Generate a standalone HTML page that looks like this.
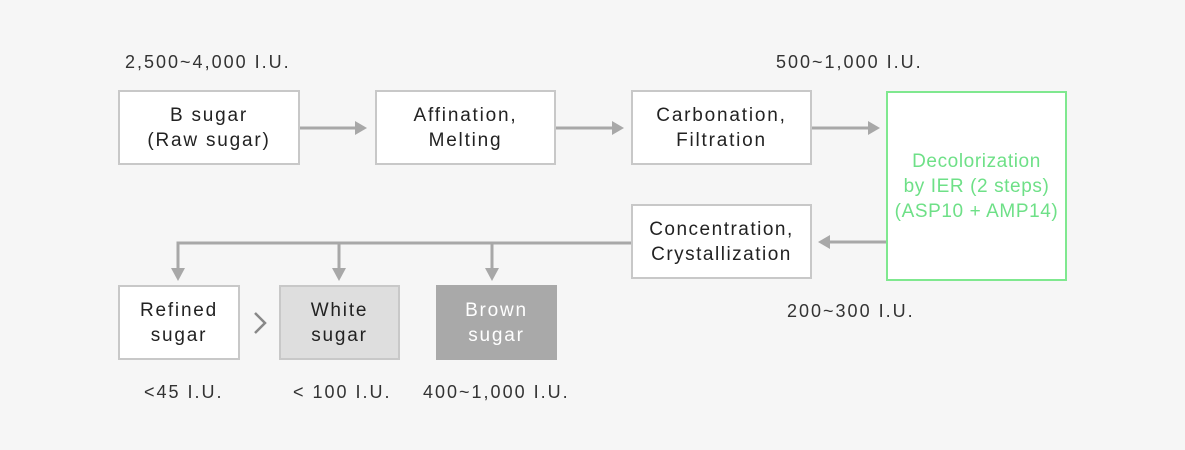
<!DOCTYPE html>
<html><head><style>
body{margin:0;width:1185px;height:450px;background:#f6f6f6;font-family:"Liberation Sans",sans-serif;position:relative;overflow:hidden}
.b{position:absolute;box-sizing:border-box;border:2px solid #c8c8c8;background:#fff;display:flex;align-items:center;justify-content:center;text-align:center;font-size:19px;letter-spacing:1.8px;line-height:25px;color:#222;white-space:nowrap}
.t{position:absolute;font-size:18px;letter-spacing:2px;color:#333;white-space:nowrap}
svg{position:absolute;left:0;top:0}
</style></head><body>
<svg width="1185" height="450">
<g stroke="#a8a8a8" stroke-width="3" fill="none">
<line x1="299" y1="128" x2="355" y2="128"/>
<line x1="555" y1="128" x2="612" y2="128"/>
<line x1="811" y1="128" x2="868" y2="128"/>
<line x1="886" y1="242" x2="830" y2="242"/>
<polyline points="631,243 178,243 178,270"/>
<line x1="339" y1="243" x2="339" y2="270"/>
<line x1="492" y1="243" x2="492" y2="270"/>
<polyline points="255,313 265,323 255,333" stroke="#888" stroke-width="2.5"/>
</g>
<g fill="#a8a8a8">
<polygon points="355,121 367,128 355,135"/>
<polygon points="612,121 624,128 612,135"/>
<polygon points="868,121 880,128 868,135"/>
<polygon points="830,235 818,242 830,249"/>
<polygon points="171,268 185,268 178,281"/>
<polygon points="332,268 346,268 339,281"/>
<polygon points="485,268 499,268 492,281"/>
</g>
</svg>
<div class="t" style="left:125px;top:52px">2,500~4,000 I.U.</div>
<div class="t" style="left:776px;top:52px">500~1,000 I.U.</div>
<div class="t" style="left:787px;top:301px">200~300 I.U.</div>
<div class="t" style="left:144px;top:382px">&lt;45 I.U.</div>
<div class="t" style="left:293px;top:382px">&lt; 100 I.U.</div>
<div class="t" style="left:423px;top:382px">400~1,000 I.U.</div>
<div class="b" style="left:118px;top:90px;width:182px;height:75px">B sugar<br>(Raw sugar)</div>
<div class="b" style="left:375px;top:90px;width:181px;height:75px">Affination,<br>Melting</div>
<div class="b" style="left:631px;top:90px;width:181px;height:75px">Carbonation,<br>Filtration</div>
<div class="b" style="left:886px;top:91px;width:181px;height:190px;border-color:#7fe88f;color:#6ee087;letter-spacing:0.6px">Decolorization<br>by IER (2 steps)<br>(ASP10 + AMP14)</div>
<div class="b" style="left:631px;top:204px;width:181px;height:75px;letter-spacing:1.5px">Concentration,<br>Crystallization</div>
<div class="b" style="left:118px;top:285px;width:122px;height:75px">Refined<br>sugar</div>
<div class="b" style="left:279px;top:285px;width:121px;height:75px;background:#dedede">White<br>sugar</div>
<div class="b" style="left:436px;top:285px;width:121px;height:75px;background:#a9a9a9;border-color:#a9a9a9;color:#fff">Brown<br>sugar</div>
</body></html>
